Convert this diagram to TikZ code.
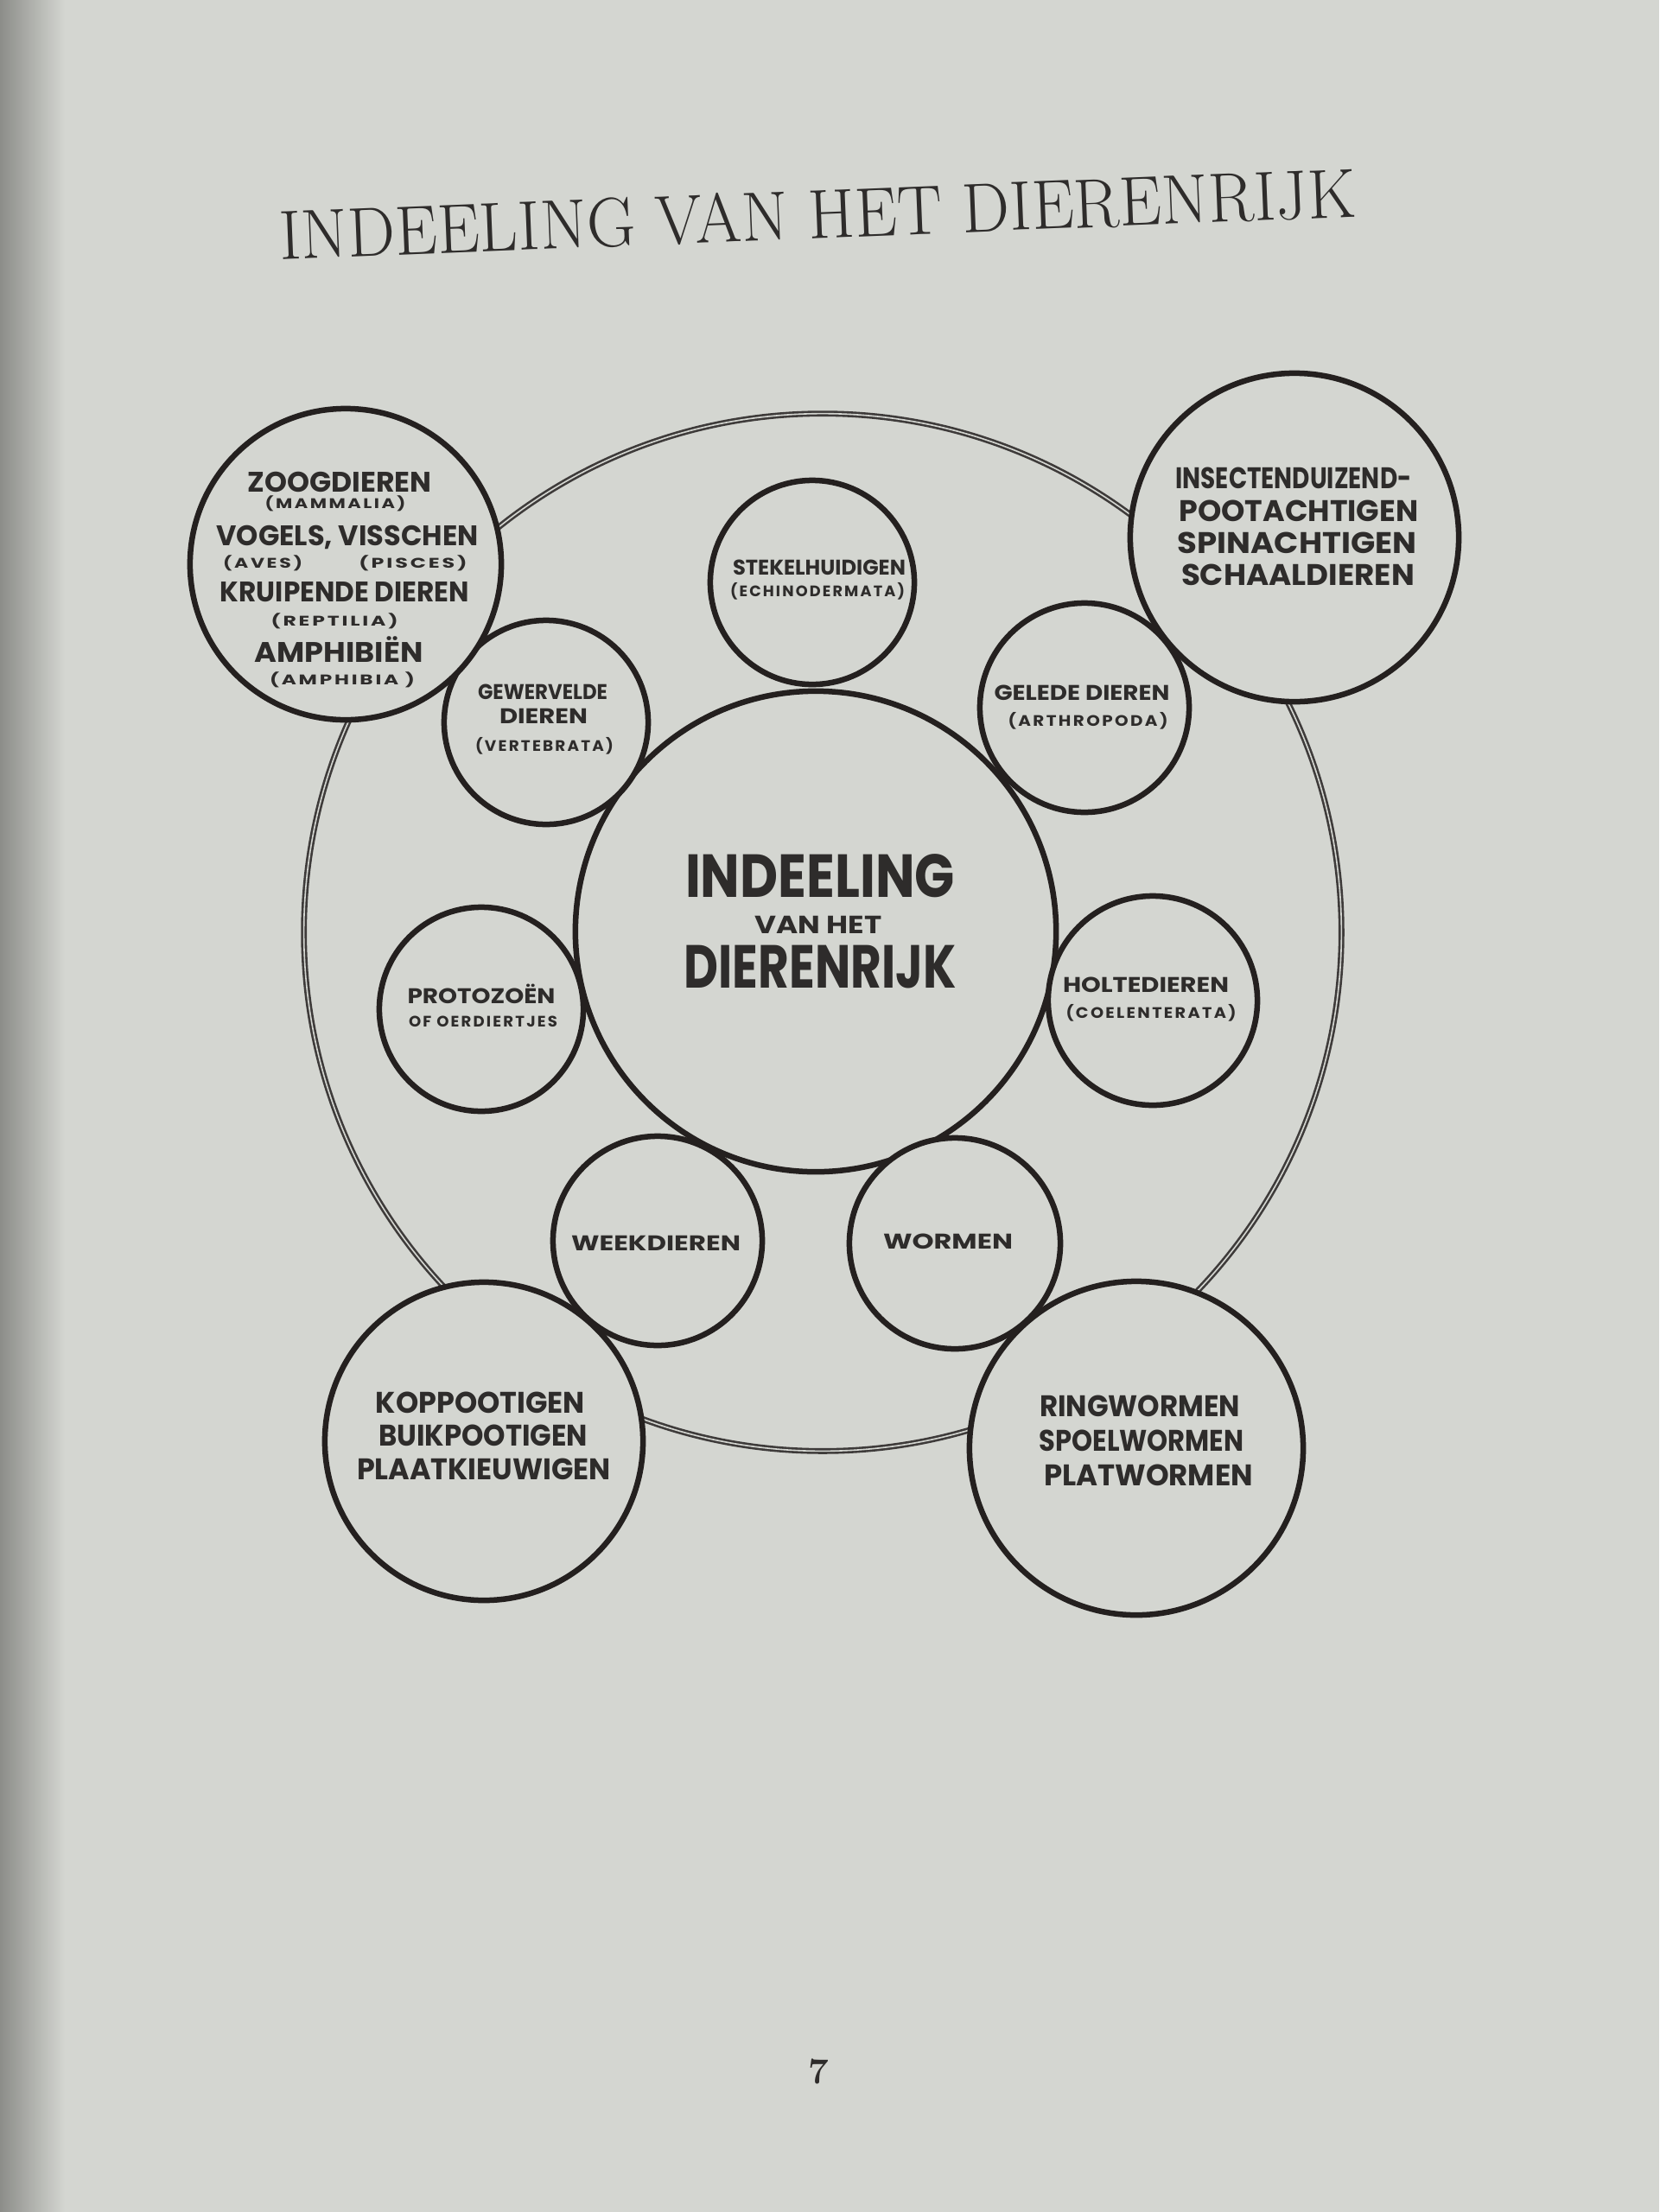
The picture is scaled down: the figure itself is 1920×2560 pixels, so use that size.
\documentclass[tikz,border=0pt]{standalone}
\usepackage{fontspec}
\usepackage{graphicx}
\newfontfamily\pop{Poppins}
\newfontfamily\popsp{Poppins}[LetterSpace=12]
\newlength\pxu \setlength\pxu{0.01cm}
\newcommand\fitw[2]{\resizebox{#1\pxu}{\height}{#2}}
\definecolor{paper}{RGB}{212,214,209}
\definecolor{shadowc}{RGB}{140,141,137}
\definecolor{ink}{RGB}{36,32,31}
\definecolor{ringc}{RGB}{62,59,58}
\definecolor{txt}{RGB}{46,44,43}
\tikzset{
  ringline/.style={circle, draw=ringc, line width=0.026cm, double=paper, double distance=0.016cm, inner sep=0pt, minimum size=#1},
  bubble/.style={circle, draw=ink, fill=paper, line width=0.065cm, inner sep=0pt, minimum size=#1},
  lbl/.style={anchor=base, inner sep=0pt, text=txt},
  bigt/.style={lbl, font=\pop\bfseries\fontsize{9.8}{10}\selectfont},
  zt/.style={lbl, font=\pop\bfseries\fontsize{9.3}{10}\selectfont},
  smt/.style={lbl, font=\pop\bfseries\fontsize{7}{8}\selectfont},
  subt/.style={lbl, font=\popsp\bfseries\fontsize{4.6}{5}\selectfont},
  subs/.style={lbl, font=\popsp\bfseries\fontsize{5}{6}\selectfont},
}
\begin{document}
\begin{tikzpicture}[x=0.01cm, y=-0.01cm]
\useasboundingbox (0,0) rectangle (1920,2560);
\fill[paper] (0,0) rectangle (1920,2560);
\shade[left color=shadowc, right color=paper] (0,0) rectangle (75,2560);

% title
\node[inner sep=0pt, text=txt, rotate=2.3, font=\fontsize{23}{26}\selectfont] (title) at (946,248)
  {\fitw{1247}{INDEELING VAN HET DIERENRIJK}};

% outer ring
\node[ringline=12cm] (ring) at (952,1079) {};

% centre circle
\node[bubble=5.56cm] (centre) at (944,1078) {};

% seven small circles
\node[bubble=2.36cm] (stekel) at (940,674) {};
\node[bubble=2.36cm] (gewerv) at (632,836) {};
\node[bubble=2.42cm] (gelede) at (1255,819) {};
\node[bubble=2.36cm] (proto) at (557,1168) {};
\node[bubble=2.42cm] (holte) at (1334,1158) {};
\node[bubble=2.42cm] (week) at (761,1436) {};
\node[bubble=2.44cm] (worm) at (1105,1439) {};

% four large circles
\node[bubble=3.6cm] (zoog) at (400,653) {};
\node[bubble=3.8cm] (insect) at (1498,622) {};
\node[bubble=3.68cm] (kop) at (560,1668) {};
\node[bubble=3.86cm] (ringw) at (1315,1676) {};

% centre text
\node[lbl, font=\pop\bfseries\fontsize{20}{22}\selectfont] (c1) at (949,1038) {\fitw{312}{INDEELING}};
\node[lbl, font=\pop\bfseries\fontsize{8.2}{9}\selectfont] (c2) at (947,1080) {\fitw{147}{VAN HET}};
\node[lbl, font=\pop\bfseries\fontsize{20}{22}\selectfont] (c3) at (949,1143) {\fitw{315}{DIERENRIJK}};

% zoogdieren circle
\node[zt] (z1) at (393,569) {\fitw{213}{ZOOGDIEREN}};
\node[subt] (z2) at (388,588) {\fitw{163}{(MAMMALIA)}};
\node[zt] (z3) at (402,631) {\fitw{303}{VOGELS, VISSCHEN}};
\node[subt] (z4) at (304,657) {\fitw{92}{(AVES)}};
\node[subt] (z5) at (478,657) {\fitw{125}{(PISCES)}};
\node[zt] (z6) at (399,696) {\fitw{288}{KRUIPENDE DIEREN}};
\node[subt] (z7) at (387,724) {\fitw{147}{(REPTILIA)}};
\node[zt] (z8) at (392,766) {\fitw{195}{AMPHIBIËN}};
\node[subt] (z9) at (396,792) {\fitw{168}{(AMPHIBIA )}};

% insecten circle
\node[bigt] (i1) at (1497,565) {\fitw{273}{INSECTENDUIZEND-}};
\node[bigt] (i2) at (1503,603) {\fitw{277}{POOTACHTIGEN}};
\node[bigt] (i3) at (1501,640) {\fitw{277}{SPINACHTIGEN}};
\node[bigt] (i4) at (1502,677) {\fitw{270}{SCHAALDIEREN}};

% koppootigen circle
\node[bigt] (k1) at (556,1635) {\fitw{242}{KOPPOOTIGEN}};
\node[bigt] (k2) at (559,1673) {\fitw{242}{BUIKPOOTIGEN}};
\node[bigt] (k3) at (560,1712) {\fitw{294}{PLAATKIEUWIGEN}};

% ringwormen circle
\node[bigt] (r1) at (1319,1639) {\fitw{232}{RINGWORMEN}};
\node[bigt] (r2) at (1321,1679) {\fitw{237}{SPOELWORMEN}};
\node[bigt] (r3) at (1329,1719) {\fitw{242}{PLATWORMEN}};

% small circles text
\node[smt] (s1) at (948,665) {\fitw{200}{STEKELHUIDIGEN}};
\node[subs] (s2) at (946,690) {\fitw{202}{(ECHINODERMATA)}};
\node[smt] (g1) at (628,809) {\fitw{150}{GEWERVELDE}};
\node[smt] (g2) at (629,837) {\fitw{102}{DIEREN}};
\node[subs] (g3) at (630,869) {\fitw{160}{(VERTEBRATA)}};
\node[smt] (a1) at (1252,810) {\fitw{203}{GELEDE DIEREN}};
\node[subs] (a2) at (1259,840) {\fitw{185}{(ARTHROPODA)}};
\node[smt] (p1) at (557,1161) {\fitw{171}{PROTOZOËN}};
\node[subs] (p2) at (559,1188) {\fitw{172}{OF OERDIERTJES}};
\node[smt] (h1) at (1326,1148) {\fitw{192}{HOLTEDIEREN}};
\node[subs] (h2) at (1332,1178) {\fitw{197}{(COELENTERATA)}};
\node[smt] (w1) at (759,1447) {\fitw{196}{WEEKDIEREN}};
\node[smt] (w2) at (1097,1445) {\fitw{150}{WORMEN}};

% page number
\node[inner sep=0pt, text=txt, font=\bfseries\fontsize{12}{14}\selectfont] (pageno) at (947,2397) {7};
\end{tikzpicture}
\end{document}
